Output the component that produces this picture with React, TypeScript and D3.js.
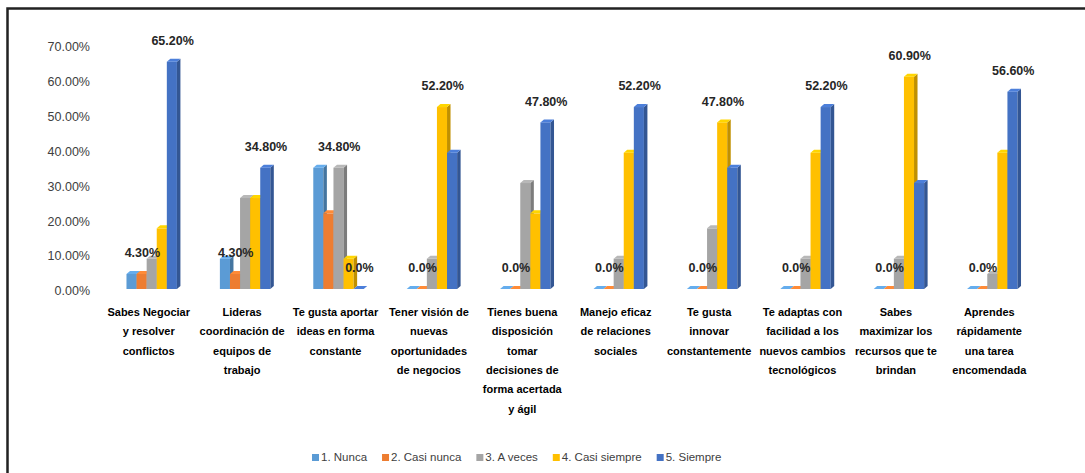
import * as d3 from "d3";
import React, { useEffect, useRef } from "react";

const categories = [
  "Sabes Negociar\ny resolver\nconflictos",
  "Lideras\ncoordinación de\nequipos de\ntrabajo",
  "Te gusta aportar\nideas en forma\nconstante",
  "Tener visión de\nnuevas\noportunidades\nde negocios",
  "Tienes buena\ndisposición\ntomar\ndecisiones de\nforma acertada\ny ágil",
  "Manejo eficaz\nde relaciones\nsociales",
  "Te gusta\ninnovar\nconstantemente",
  "Te adaptas con\nfacilidad a los\nnuevos cambios\ntecnológicos",
  "Sabes\nmaximizar los\nrecursos que te\nbrindan",
  "Aprendes\nrápidamente\nuna tarea\nencomendada",
];

const seriesNames = ["1. Nunca", "2. Casi nunca", "3. A veces", "4. Casi siempre", "5. Siempre"];
const seriesColors = ["#5B9BD5", "#ED7D31", "#A5A5A5", "#FFC000", "#4472C4"];

// percentages per category
const nunca = [4.3, 8.7, 34.8, 0, 0, 0, 0, 0, 0, 0];
const casiNunca = [4.3, 4.3, 21.7, 0, 0, 0, 0, 0, 0, 0];
const aVeces = [8.7, 26.1, 34.8, 8.7, 30.4, 8.7, 17.4, 8.7, 8.7, 4.3];
const casiSiempre = [17.4, 26.1, 8.7, 52.2, 21.7, 39.1, 47.8, 39.1, 60.9, 39.1];
const siempre = [65.2, 34.8, 0, 39.1, 47.8, 52.2, 34.8, 52.2, 30.4, 56.6];

const yTicks = [0, 10, 20, 30, 40, 50, 60, 70];

// data labels shown on the chart (which series gets labelled in each group)
const highLabelSeries = [4, 4, 2, 3, 4, 4, 3, 4, 3, 4];
const highLabels = ["65.20%", "34.80%", "34.80%", "52.20%", "47.80%", "52.20%", "47.80%", "52.20%", "60.90%", "56.60%"];
const lowLabelSeries = [1, 1, 4, 1, 1, 1, 1, 1, 1, 1];
const lowLabels = ["4.30%", "4.30%", "0.0%", "0.0%", "0.0%", "0.0%", "0.0%", "0.0%", "0.0%", "0.0%"];

const FONT = "'Liberation Sans', Arial, sans-serif";

const App: React.FC = () => {
  const ref = useRef<SVGSVGElement>(null);

  useEffect(() => {
    const width = 1085;
    const height = 473;
    const values = [nunca, casiNunca, aVeces, casiSiempre, siempre];
    const svg = d3.select(ref.current);
    svg.selectAll("*").remove();
    svg.attr("width", width).attr("height", height);

    svg.append("rect").attr("width", width).attr("height", height).attr("fill", "#fff");

    // frame
    svg
      .append("path")
      .attr("d", `M7.5,${height} V8.5 H${width}`)
      .attr("fill", "none")
      .attr("stroke", "#222")
      .attr("stroke-width", 2.5);

    const y = d3.scaleLinear().domain([0, 70]).range([289, 45]);
    const x0 = d3
      .scaleBand<number>()
      .domain(d3.range(categories.length))
      .range([105, 1039])
      .paddingInner(0.46)
      .paddingOuter(0.23);
    const x1 = d3
      .scaleBand<number>()
      .domain(d3.range(seriesNames.length))
      .range([0, x0.bandwidth()]);

    const dx = 3.5;
    const dy = 3;

    // y tick labels
    svg
      .append("g")
      .selectAll("text")
      .data(yTicks)
      .join("text")
      .attr("x", 90)
      .attr("y", (d) => y(d) + 3)
      .attr("text-anchor", "end")
      .attr("dominant-baseline", "middle")
      .attr("font-family", FONT)
      .attr("font-size", "12.5px")
      .attr("fill", "#404040")
      .text((d) => d.toFixed(2) + "%");

    // 3D bars
    const bars = svg.append("g");
    categories.forEach((_, gi) => {
      values.forEach((vals, si) => {
        const bx = (x0(gi) as number) + (x1(si) as number);
        const bw = x1.bandwidth();
        const top = y(vals[gi]);
        const base = y(0);
        const c = seriesColors[si];
        const g = bars.append("g");
        g.append("rect")
          .attr("x", bx)
          .attr("y", top)
          .attr("width", bw)
          .attr("height", base - top)
          .attr("fill", c);
        g.append("path")
          .attr(
            "d",
            `M${bx + bw},${top} L${bx + bw + dx},${top - dy} L${bx + bw + dx},${base - dy} L${bx + bw},${base} Z`,
          )
          .attr("fill", d3.color(c)!.darker(0.8).formatHex());
        g.append("path")
          .attr(
            "d",
            `M${bx},${top} L${bx + dx},${top - dy} L${bx + bw + dx},${top - dy} L${bx + bw},${top} Z`,
          )
          .attr("fill", d3.color(c)!.brighter(0.3).formatHex());
      });
    });

    // data labels
    const labels = svg.append("g");
    const addLabel = (gi: number, si: number, txt: string) => {
      const v = values[si][gi];
      labels
        .append("text")
        .attr("x", (x0(gi) as number) + (x1(si) as number) + x1.bandwidth() / 2 + dx / 2 - 1)
        .attr("y", y(v) - 20)
        .attr("text-anchor", "middle")
        .attr("dominant-baseline", "middle")
        .attr("font-family", FONT)
        .attr("font-size", "12.5px")
        .attr("font-weight", "bold")
        .attr("fill", "#262626")
        .text(txt);
    };
    categories.forEach((_, gi) => {
      addLabel(gi, lowLabelSeries[gi], lowLabels[gi]);
      addLabel(gi, highLabelSeries[gi], highLabels[gi]);
    });

    // category labels
    const cat = svg.append("g");
    categories.forEach((c, gi) => {
      const cx = (x0(gi) as number) + x0.bandwidth() / 2 - 3;
      const t = cat
        .append("text")
        .attr("text-anchor", "middle")
        .attr("font-family", FONT)
        .attr("font-size", "11px")
        .attr("font-weight", "bold")
        .attr("fill", "#000");
      c.split("\n").forEach((line, li) => {
        t.append("tspan")
          .attr("x", cx)
          .attr("y", 316 + li * 19.3)
          .text(line);
      });
    });

    // legend
    const legend = svg.append("g");
    let lx = 312;
    seriesNames.forEach((name, si) => {
      legend
        .append("rect")
        .attr("x", lx)
        .attr("y", 454)
        .attr("width", 7)
        .attr("height", 7)
        .attr("fill", seriesColors[si]);
      const t = legend
        .append("text")
        .attr("x", lx + 9)
        .attr("y", 458)
        .attr("dominant-baseline", "middle")
        .attr("font-family", FONT)
        .attr("font-size", "11.5px")
        .attr("fill", "#404040")
        .attr("textLength", null)
        .text(name);
      const w = (t.node() as SVGTextElement).getComputedTextLength();
      lx += 9 + w + 15;
    });
  }, []);

  return (
    <svg
      ref={ref}
      style={{ position: "absolute", left: 0, top: 0, display: "block" }}
    ></svg>
  );
};

export default App;
